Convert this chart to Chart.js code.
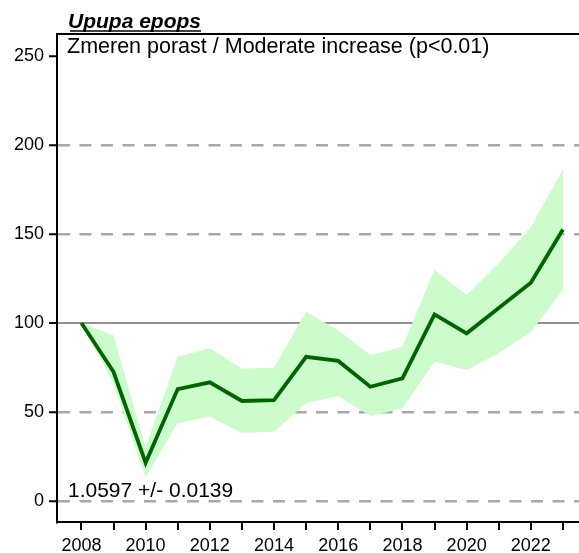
<!DOCTYPE html>
<html>
<head>
<meta charset="utf-8">
<script src="https://cdn.jsdelivr.net/npm/chart.js@4"></script>
<style>
  html, body { margin: 0; padding: 0; background: #fff; }
  #wrap { width: 579px; height: 553px; position: relative; }
</style>
</head>
<body>
<div id="wrap"><canvas id="trend"></canvas></div>
<script>
// Upupa epops population index, 2008 = 100
const years = [2008, 2009, 2010, 2011, 2012, 2013, 2014, 2015, 2016, 2017, 2018, 2019, 2020, 2021, 2022, 2023];
const indexValues = [100, 72.6, 21.5, 62.9, 66.7, 56.2, 56.7, 81, 78.7, 64.2, 68.9, 104.9, 94.2, 108.4, 122.6, 152.6];
const upperCI = [100, 93, 30, 81, 85.8, 74.5, 74.9, 106.3, 96, 82, 86.7, 129.8, 115.7, 133.5, 154, 186.3];
const lowerCI = [100, 66, 13, 43.8, 47.4, 38.4, 38.9, 54.9, 59, 47.8, 52, 78.3, 73.6, 83, 95, 118.5];
const yTicks = [0, 50, 100, 150, 200, 250];
const xLabelYears = [2008, 2010, 2012, 2014, 2016, 2018, 2020, 2022];

const speciesName = 'Upupa epops';
const trendText = 'Zmeren porast / Moderate increase (p<0.01)';
const slopeText = '1.0597 +/- 0.0139';

const FONT = '"Liberation Sans", Arial, sans-serif';

const toPoints = vals => years.map((yr, i) => ({ x: yr, y: vals[i] }));

// frame top line + the three text labels
const textPlugin = {
    id: 'texts',
    afterDraw(chart) {
        const { ctx, chartArea } = chart;
        ctx.save();
        // top border of plot box
        ctx.strokeStyle = '#000';
        ctx.lineWidth = 2;
        ctx.beginPath();
        ctx.moveTo(chartArea.left - 1, chartArea.top);
        ctx.lineTo(chartArea.right, chartArea.top);
        ctx.stroke();

        ctx.fillStyle = '#000';
        ctx.textBaseline = 'alphabetic';
        ctx.textAlign = 'left';

        // species title, bold italic underlined
        ctx.font = 'italic bold 21px ' + FONT;
        const tx = chartArea.left + 11;
        ctx.fillText(speciesName, tx, chartArea.top - 6);
        const w = ctx.measureText(speciesName).width;
        ctx.lineWidth = 1.7;
        ctx.beginPath();
        ctx.moveTo(tx + 2, chartArea.top - 3);
        ctx.lineTo(tx + w, chartArea.top - 3);
        ctx.stroke();

        ctx.font = '21.5px ' + FONT;
        ctx.fillText(trendText, chartArea.left + 10, chartArea.top + 19);
        ctx.font = '21px ' + FONT;
        ctx.fillText(slopeText, chartArea.left + 11, chartArea.bottom - 25);
        ctx.restore();
    }
};

const gridDash = ctx => {
    if (!ctx.tick) return [];
    return ctx.tick.value === 100 ? [] : [12, 9.5];
};

new Chart(document.getElementById('trend'), {
    type: 'line',
    data: {
        datasets: [{
            label: 'Index',
            data: toPoints(indexValues),
            borderColor: '#006400',
            borderWidth: 3.8,
            pointRadius: 0,
            tension: 0,
            fill: false,
        }, {
            label: 'Lower',
            data: toPoints(lowerCI),
            borderWidth: 0,
            borderColor: 'rgba(0,0,0,0)',
            pointRadius: 0,
            fill: false,
        }, {
            label: 'Upper',
            data: toPoints(upperCI),
            borderWidth: 0,
            borderColor: 'rgba(0,0,0,0)',
            backgroundColor: '#ccfccc',
            pointRadius: 0,
            fill: 1,
        }],
    },
    options: {
        responsive: true,
        maintainAspectRatio: false,
        animation: false,
        layout: { padding: { top: 34, right: 0, left: 0, bottom: 0 } },
        plugins: {
            legend: { display: false },
            tooltip: { enabled: false },
            title: { display: false },
        },
        scales: {
            x: {
                type: 'linear',
                min: 2007.24,
                max: 2023.5,
                afterBuildTicks: scale => { scale.ticks = years.map(v => ({ value: v })); },
                afterFit: scale => { scale.height = 31; },
                ticks: {
                    autoSkip: false,
                    maxRotation: 0,
                    padding: 5,
                    color: '#000',
                    font: { family: FONT, size: 18 },
                    callback: v => xLabelYears.includes(v) ? String(v) : '',
                },
                grid: {
                    drawOnChartArea: false,
                    drawTicks: true,
                    tickLength: 8,
                    tickColor: '#000',
                    tickWidth: 2,
                    lineWidth: 2,
                },
                border: { display: true, color: '#000', width: 2 },
            },
            y: {
                min: -11.8,
                max: 262.4,
                z: 1,
                afterBuildTicks: scale => { scale.ticks = yTicks.map(v => ({ value: v })); },
                afterFit: scale => { scale.width = 57; },
                ticks: {
                    padding: 5,
                    color: '#000',
                    font: { family: FONT, size: 18 },
                },
                grid: {
                    drawTicks: true,
                    tickLength: 8,
                    tickColor: '#000',
                    tickWidth: 2,
                    lineWidth: ctx => (ctx.tick && ctx.tick.value === 100) ? 2 : 2.5,
                    color: ctx => {
                        if (!ctx.tick) return '#999';
                        if (ctx.tick.value === 250) return 'rgba(0,0,0,0)';
                        return ctx.tick.value === 100 ? '#929292' : '#a8a8a8';
                    },
                },
                border: { display: true, color: '#000', width: 2, dash: gridDash },
            },
        },
    },
    plugins: [textPlugin],
});
</script>
</body>
</html>
